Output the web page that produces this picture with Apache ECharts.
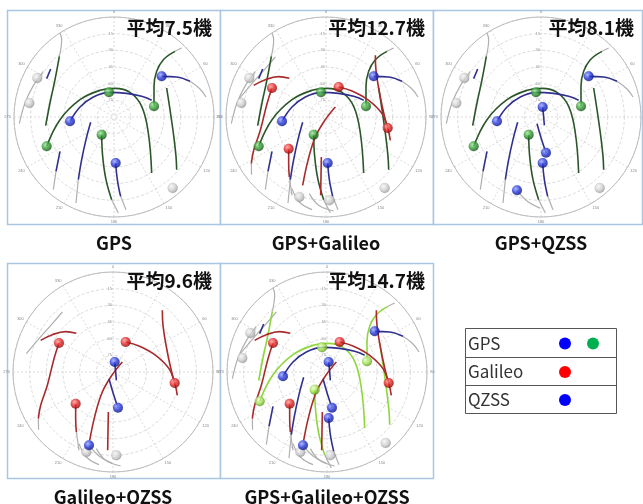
<!DOCTYPE html>
<html><head><meta charset="utf-8">
<script src="https://cdn.jsdelivr.net/npm/echarts@6/dist/echarts.min.js"></script>
<style>html,body{margin:0;padding:0;background:#fff}#c{width:643px;height:504px}</style>
</head><body><div id="c"></div>
<script>
// Sky-plane positions [east, north], in degrees of zenith angle (0 = zenith, 90 = horizon)
const gpsGreenTracks = [
  [[-60.6,-26.4],[-48.6,-2.4],[-30.6,15.6],[-12.6,24],[0.9,25.8],[14.4,22.2],[24.9,9.6],[30.9,-14.4],[33.9,-50.4]],
  [[36,9.6],[36,27.6],[38.4,41.1],[44.4,51.6],[54.9,59.1]],
  [[47.4,26.1],[50.4,6.6],[53.4,-14.4],[55.8,-35.4],[56.4,-47.4]],
  [[-49.2,54.6],[-53.1,33.6],[-57.6,12.6],[-61.5,-7.8]],
  [[-11.1,-15.9],[-10.2,-35.4],[-7.2,-56.4],[-2.1,-74.4]]
];
const gpsBlueTracks = [
  [[-39.6,-3.9],[-30.6,9],[-18.6,18],[-4.5,22.2],[11.4,21.3],[24.9,18.6],[33.9,15]],
  [[42.9,36.6],[56.4,36],[68.4,32.1]],
  [[1.5,-41.4],[3,-56.4],[6,-71.4]],
  [[-21,-4.8],[-25.2,-20.4],[-29.1,-38.4],[-32.1,-56.4]],
  [[-48.6,-30.9],[-52.2,-48.9]],
  [[-60.6,34.5],[-57,43.2]]
];
const gpsGrayTracks = [
  [[54.9,59.1],[60.9,62.1]],
  [[68.4,32.1],[77.4,25.2],[82.8,18]],
  [[-48.6,75.6],[-47.1,69.6],[-49.2,54.6]],
  [[-85.2,-6],[-80.1,12.6],[-72.6,28.2],[-63.6,41.1]],
  [[-2.1,-74.4],[3.9,-86.4]],
  [[6,-71.4],[10.8,-83.4]],
  [[-32.1,-56.4],[-34.2,-77.4]],
  [[-52.2,-48.9],[-54.6,-65.4]]
];
const gpsGreenDots = [[-60.6,-26.4],[-4.5,22.2],[36,9.6],[-11.1,-15.9]];
const gpsBlueDots = [[42.9,36.6],[-39.6,-3.9],[1.5,-41.4]];
const gpsGrayDots = [[-69,35.1],[-76.2,12.6],[52.8,-63.9]];

const galRedTracks = [
  [[-48.6,26.1],[-53.1,12],[-59.1,-12],[-65.1,-30],[-67.2,-42]],
  [[-65.1,28.5],[-54.6,33.6],[-42.6,36.3],[-33,34.8]],
  [[11.4,27],[23.4,23.4],[38.4,15],[50.4,3],[55.5,-9.9],[57.9,-21]],
  [[44.4,55.5],[45,42],[48.9,18],[52.8,0],[55.5,-9.9]],
  [[-33.6,-28.5],[-33.6,-42],[-33,-54]],
  [[8.4,9],[-0.6,-2.4],[-9.6,-18],[-16.2,-39],[-21,-61.5]],
  [[-4.2,-36],[-4.8,-70.5]]
];
const galGrayTracks = [
  [[-78,16.5],[-66.6,30],[-54.6,43.5],[-45.6,54]],
  [[-33,-54],[-30.6,-70.5]],
  [[-30.6,-64.5],[-24,-76.5],[-12.6,-83.4]],
  [[-15,-69],[-6.6,-79.5],[6.9,-84.6]],
  [[-67.2,-42],[-67,-52]]
];
const galRedDots = [[-48.6,26.1],[11.4,27],[55.5,-9.9],[-33.6,-28.5]];
const galGrayDots = [[-24,-72],[3,-75]];

const qzsBlueTracks = [
  [[1.5,9],[2.4,0],[3,-7.5]],
  [[-3.6,-6],[0.3,-19.5],[4.5,-32.1]]
];
const qzsGrayTracks = [[[-21.6,-66],[-12,-76],[-1,-82]]];
const qzsBlueDots = [[1.5,9],[4.5,-32.1],[-21.6,-66]];

const panelNames = ['GPS','GPS+Galileo','GPS+QZSS','Galileo+QZSS','GPS+Galileo+QZSS'];
const panelAverages = ['平均7.5機','平均12.7機','平均8.1機','平均9.6機','平均14.7機'];
const panelSystems = [['gps'],['gps','gal'],['gps','qzs'],['gal','qzs'],['gps','gal','qzs']];
const legendNames = ['GPS','Galileo','QZSS'];

// ---- layout / style ----
const centers = [[114,117],[326,117],[541,117],[113,372],[327,372]];
const boxes = [[7,10,213,214],[220,10,213,214],[433,10,209,214],[7,263,213,215],[220,263,213,215]];
const C = {
  green:'#2a562a', lime:'#8fd63a', blue:'#30308f', red:'#a82a2a', gray:'#b0b0b0'
};
function toPolar(p){ const r=Math.hypot(p[0],p[1]); let a=Math.atan2(p[0],p[1])*180/Math.PI; if(a<0)a+=360; return [r,a]; }
function ball(light, mid, dark){
  return {type:'radial',x:0.38,y:0.35,r:0.65,colorStops:[{offset:0,color:light},{offset:0.55,color:mid},{offset:1,color:dark}]};
}
const dotStyles = {
  green: ball('#9be39b','#2f9a2f','#135013'),
  lime: ball('#eaffd0','#9ee04e','#5a9a1a'),
  blue: ball('#9aa6ff','#2233d8','#0b1480'),
  red: ball('#ff9a9a','#e52020','#8a0a0a'),
  gray: ball('#f4f4f4','#cfcfcf','#999999')
};

const polar=[], angleAxis=[], radiusAxis=[], series=[];
centers.forEach((c,i)=>{
  polar.push({center:c, radius:100});
  angleAxis.push({polarIndex:i, type:'value', min:0, max:360, interval:30, startAngle:90, clockwise:true,
    axisLine:{lineStyle:{color:'#bdbdbd',width:1}}, axisTick:{show:false},
    axisLabel:{fontSize:4, color:'#888', margin:3, formatter:v=>v===360?'':String(v)},
    splitLine:{show:true,lineStyle:{color:'#d0d0d0',type:[2,2],width:0.8}}});
  radiusAxis.push({polarIndex:i, type:'value', min:0, max:90, interval:15,
    axisLine:{show:false}, axisTick:{show:false},
    axisLabel:{fontSize:4, color:'#999', margin:1, formatter:v=>v===0||v===90?'':String(90-v)},
    splitLine:{show:true,lineStyle:{color:'#d0d0d0',type:[3,2],width:0.8}}});
});

function addTracks(pi, tracks, color, w){
  tracks.forEach(t=>series.push({type:'line',coordinateSystem:'polar',polarIndex:pi,smooth:0.4,
    showSymbol:false, silent:true, z:3, data:t.map(toPolar), lineStyle:{color:color,width:w}}));
}
function addDots(pi, dots, style){
  series.push({type:'scatter',coordinateSystem:'polar',polarIndex:pi,symbolSize:10,z:5,silent:true,
    data:dots.map(toPolar), itemStyle:{color:style,borderColor:'rgba(0,0,0,0.15)',borderWidth:0.5}});
}
panelSystems.forEach((sys,pi)=>{
  const greenC = pi===4 ? C.lime : C.green;
  const greenD = pi===4 ? dotStyles.lime : dotStyles.green;
  if(sys.includes('gps')) addTracks(pi, gpsGrayTracks, C.gray, 1.2);
  if(sys.includes('gal')) addTracks(pi, galGrayTracks, C.gray, 1.2);
  if(sys.includes('qzs')) addTracks(pi, qzsGrayTracks, C.gray, 1.2);
  if(sys.includes('gps')){ addTracks(pi, gpsGreenTracks, greenC, 1.6); addTracks(pi, gpsBlueTracks, C.blue, 1.6); }
  if(sys.includes('gal')) addTracks(pi, galRedTracks, C.red, 1.6);
  if(sys.includes('qzs')) addTracks(pi, qzsBlueTracks, C.blue, 1.6);
  if(sys.includes('gps')){ addDots(pi, gpsGrayDots, dotStyles.gray); addDots(pi, gpsGreenDots, greenD); addDots(pi, gpsBlueDots, dotStyles.blue); }
  if(sys.includes('gal')){ addDots(pi, galGrayDots, dotStyles.gray); addDots(pi, galRedDots, dotStyles.red); }
  if(sys.includes('qzs')) addDots(pi, qzsBlueDots, dotStyles.blue);
});

const JP = '"Noto Sans CJK JP","Noto Sans",sans-serif';
const graphic = [];
boxes.forEach((b,i)=>{
  graphic.push({type:'rect',z:-10,shape:{x:b[0]+0.5,y:b[1]+0.5,width:b[2],height:b[3]},style:{fill:'#fff',stroke:'#a9c6e2',lineWidth:1.5}});
  graphic.push({type:'text',z:20,style:{text:panelAverages[i],x:b[0]+b[2]-8,y:b[1]+18,align:'right',verticalAlign:'middle',
    font:'bold 19px '+JP, fill:'#111'}});
  graphic.push({type:'text',z:20,style:{text:panelNames[i],x:centers[i][0],y:b[1]+b[3]+19,align:'center',verticalAlign:'middle',
    font:'bold 18px '+JP, fill:'#111'}});
});
// legend table
const lg = {x:465,y:328,w:151,rows:[29,28,28]};
graphic.push({type:'rect',z:20,shape:{x:lg.x+0.5,y:lg.y+0.5,width:lg.w,height:85},style:{fill:'#fff',stroke:'#555',lineWidth:1}});
let yy = lg.y;
const legendDots = [['#0000ff','#00b050'],['#ff0000'],['#0000ff']];
legendNames.forEach((n,i)=>{
  const h = lg.rows[i];
  if(i>0) graphic.push({type:'line',z:21,shape:{x1:lg.x,y1:yy+0.5,x2:lg.x+lg.w,y2:yy+0.5},style:{stroke:'#555',lineWidth:1}});
  graphic.push({type:'text',z:21,style:{text:n,x:lg.x+3,y:yy+h/2+1,verticalAlign:'middle',font:'17px '+JP,fill:'#333'}});
  legendDots[i].forEach((col,k)=>graphic.push({type:'circle',z:21,shape:{cx:565+k*28,cy:yy+h/2+1,r:6},style:{fill:col}}));
  yy += h;
});

const chart = echarts.init(document.getElementById('c'));
chart.setOption({animation:false, backgroundColor:'#fff', polar, angleAxis, radiusAxis, series, graphic});
</script></body></html>
